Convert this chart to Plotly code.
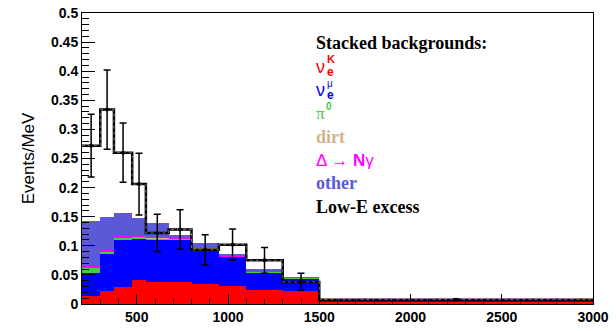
import plotly.graph_objects as go

# Bin edges (MeV)
bin_edges = [200, 300, 375, 475, 550, 675, 800, 950, 1100, 1300, 1500, 3000]

# Stacked background components (Events/MeV), bottom to top
nue_K   = [0.013, 0.022, 0.0295, 0.041, 0.0385, 0.037, 0.0346, 0.0317, 0.0237, 0.022, 0.0045]
nue_mu  = [0.0405, 0.064, 0.0815, 0.072, 0.0725, 0.073, 0.0604, 0.0493, 0.0308, 0.0225, 0.002]
pi0     = [0.0085, 0.004, 0.003, 0.003, 0.002, 0.002, 0.001, 0.0005, 0.0005, 0.0003, 0.0001]
dirt    = [0.001, 0.0005, 0.0005, 0.0005, 0.0005, 0.0005, 0.0005, 0.0005, 0.0003, 0.0002, 0.0001]
delta   = [0.002, 0.0015, 0.0015, 0.0005, 0.0005, 0.0005, 0.0005, 0.0005, 0.0003, 0.0002, 0.0001]
other   = [0.077, 0.057, 0.040, 0.031, 0.025, 0.006, 0.008, 0.004, 0.0044, 0.0008, 0.0002]

# Data with errors
data_vals = [0.272, 0.334, 0.260, 0.206, 0.122, 0.128, 0.093, 0.102, 0.075, 0.038, 0.0075]
data_errs = [0.054, 0.068, 0.051, 0.053, 0.032, 0.034, 0.026, 0.027, 0.022, 0.015, 0.001]

x_ticks = [500, 1000, 1500, 2000, 2500, 3000]

centers = [(a + b) / 2 for a, b in zip(bin_edges[:-1], bin_edges[1:])]
widths = [b - a for a, b in zip(bin_edges[:-1], bin_edges[1:])]

components = [
    ("nue_K", nue_K, "#ff0000"),
    ("nue_mu", nue_mu, "#0000ff"),
    ("pi0", pi0, "#44cc44"),
    ("dirt", dirt, "#d2b48c"),
    ("delta", delta, "#ff00ff"),
    ("other", other, "#5a5ad6"),
]

fig = go.Figure()
for name, vals, col in components:
    fig.add_trace(go.Bar(x=centers, y=vals, width=widths, name=name,
                         marker=dict(color=col, line=dict(width=0)),
                         showlegend=False))

# Data step line
fig.add_trace(go.Scatter(x=bin_edges, y=data_vals + [data_vals[-1]], mode="lines",
                         line=dict(color="black", width=2.5, shape="hv"),
                         showlegend=False))
fig.add_trace(go.Scatter(x=bin_edges, y=data_vals + [data_vals[-1]], mode="lines",
                         line=dict(color="#bbbbbb", width=0.6, shape="hv", dash="dot"),
                         showlegend=False))
# Data points with error bars
fig.add_trace(go.Scatter(x=centers, y=data_vals, mode="markers",
                         marker=dict(color="black", size=4),
                         error_y=dict(type="data", array=data_errs, visible=True,
                                      color="black", thickness=1.5, width=3.5),
                         showlegend=False))

L, R, T, B = 82, 23, 13, 27
W, H = 616, 331
pw = W - L - R
ph = H - T - B

def px(xp):
    return (xp - L) / pw

def py(yp):
    return (H - B - yp) / ph

serif = "Liberation Serif, Times New Roman, serif"
sans = "Liberation Sans, Arial, sans-serif"
ann = []
def add(text, x, y, color, size=17, family=serif, bold=True):
    ann.append(dict(text=text, x=px(x), y=py(y), xref="paper", yref="paper",
                    xanchor="left", yanchor="middle", showarrow=False,
                    borderpad=0,
                    font=dict(family=family, size=size, color=color,
                              weight="bold" if bold else "normal")))

add("Stacked backgrounds:", 315, 43.5, "black", size=18)
# nu_e^K
add("ν", 315, 67, "#ff0000", size=18, family=sans, bold=False)
add("K", 326, 59, "#ff0000", size=11, family=sans)
add("e", 326, 72, "#ff0000", size=12, family=sans)
# nu_e^mu
add("ν", 315, 90, "#0000ff", size=18, family=sans, bold=False)
add("μ", 326, 83, "#0000ff", size=10, family=sans, bold=False)
add("e", 326, 95, "#0000ff", size=12, family=sans)
# pi0
add("π", 315, 113, "#44cc44", size=17, family=serif, bold=False)
add("0", 325, 107, "#44cc44", size=10, family=sans)
add("dirt", 315, 136.5, "#d2b48c", size=18)
add("Δ → <b>N</b>γ", 315, 160, "#ff00ff", size=17, family=sans, bold=False)
add("other", 315, 183, "#5a5ad6", size=18)
add("Low-E excess", 315, 206.5, "black", size=18)

fig.update_layout(
    width=W, height=H,
    margin=dict(l=L, r=R, t=T, b=B),
    paper_bgcolor="white", plot_bgcolor="white",
    barmode="stack", bargap=0,
    annotations=ann,
    showlegend=False,
)
fig.update_xaxes(range=[200, 3000], tickvals=x_ticks, automargin=False,
                 ticks="inside", ticklen=10, tickcolor="black", tickwidth=1,
                 minor=dict(dtick=100, tick0=0, ticks="inside", ticklen=5, tickcolor="black"),
                 showline=True, linecolor="black", linewidth=1, mirror=True,
                 showgrid=False, zeroline=False,
                 tickfont=dict(family=sans, size=14, color="black", weight="bold"))
fig.update_yaxes(range=[0, 0.5], dtick=0.05, tick0=0, automargin=False,
                 ticks="inside", ticklen=13, tickcolor="black", tickwidth=1,
                 minor=dict(dtick=0.01, tick0=0, ticks="inside", ticklen=7, tickcolor="black"),
                 showline=True, linecolor="black", linewidth=1, mirror=True,
                 showgrid=False, zeroline=False,
                 tickfont=dict(family=sans, size=14, color="black", weight="bold"),
                 title=dict(text="Events/MeV", standoff=12,
                            font=dict(family=sans, size=17, color="black")))

fig.write_html("out.html", config={"displayModeBar": False},
               post_script="document.body.style.margin='0';document.body.style.padding='0';")
